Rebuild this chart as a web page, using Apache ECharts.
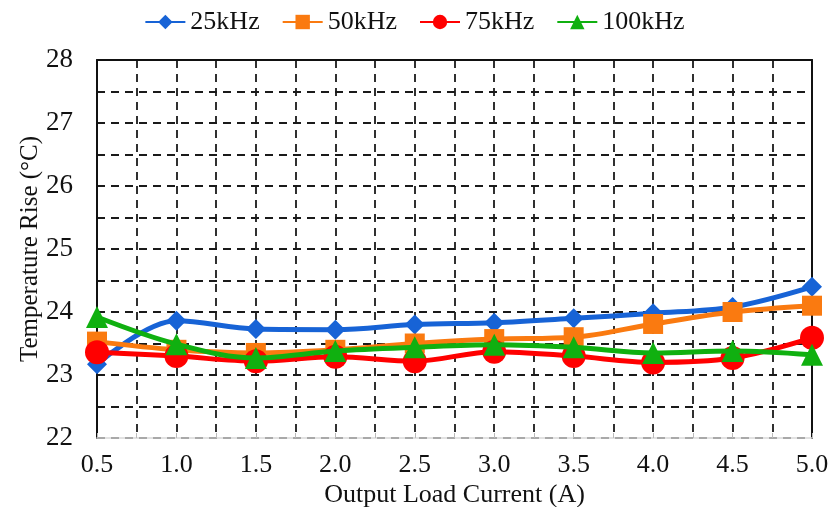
<!DOCTYPE html>
<html>
<head>
<meta charset="utf-8">
<script src="https://cdn.jsdelivr.net/npm/echarts@6/dist/echarts.min.js"></script>
<style>
html,body{margin:0;padding:0;background:#fff;}
#chart{width:829px;height:507px;}
</style>
</head>
<body>
<div id="chart"></div>
<script>
const currents = [0.5, 1.0, 1.5, 2.0, 2.5, 3.0, 3.5, 4.0, 4.5, 5.0];
const seriesNames = ['25kHz', '50kHz', '75kHz', '100kHz'];
const f25 = [23.17, 23.86, 23.73, 23.72, 23.80, 23.83, 23.90, 23.98, 24.08, 24.40];
const f50 = [23.53, 23.40, 23.35, 23.40, 23.50, 23.57, 23.60, 23.81, 24.00, 24.10];
const f75 = [23.36, 23.30, 23.22, 23.29, 23.22, 23.37, 23.30, 23.20, 23.27, 23.59];
const f100 = [23.92, 23.49, 23.27, 23.38, 23.44, 23.48, 23.44, 23.35, 23.38, 23.32];
const xTitle = 'Output Load Current (A)';
const yTitle = 'Temperature Rise (°C)';

const FONT = '"Liberation Serif", "Times New Roman", serif';
const colors = ['#1763d6', '#fa7a10', '#ff0000', '#10b010'];
const symbols = ['diamond', 'rect', 'circle', 'triangle'];
const symbolSizes = [20, 20, 24, 22];
const values = [f25, f50, f75, f100];

const dash = {color: '#1a1a1a', width: 1.8, type: [8, 6]};

const chart = echarts.init(document.getElementById('chart'), null, {renderer: 'canvas'});
chart.setOption({
  backgroundColor: '#fff',
  animation: false,
  textStyle: {fontFamily: FONT},
  legend: {
    top: 4,
    left: 'center',
    itemWidth: 40,
    itemHeight: 18,
    itemGap: 22,
    textStyle: {fontFamily: FONT, fontSize: 26, color: '#111'},
    data: seriesNames
  },
  grid: {left: 97, right: 17, top: 60, bottom: 69, outerBoundsMode: 'none', containLabel: false},
  xAxis: [{
    type: 'value',
    min: 0.5, max: 5, interval: 0.5,
    name: xTitle,
    nameLocation: 'middle',
    nameGap: 44,
    nameMoveOverlap: false,
    nameTextStyle: {fontFamily: FONT, fontSize: 26, color: '#111'},
    axisLine: {show: true, lineStyle: {color: '#d9d9d9', width: 1.5}},
    axisTick: {show: true, inside: true, length: 5, lineStyle: {color: '#bbb'}},
    minorTick: {show: true, splitNumber: 2, length: 5, lineStyle: {color: '#bbb'}},
    axisLabel: {fontFamily: FONT, fontSize: 26, color: '#111', margin: 14,
      formatter: v => v.toFixed(1)},
    splitLine: {show: true, lineStyle: dash},
    minorSplitLine: {show: true, lineStyle: dash}
  }, {
    type: 'value', position: 'top',
    min: 0.5, max: 5, interval: 0.5,
    axisLine: {show: true, onZero: false, lineStyle: {color: '#111', width: 2}},
    axisTick: {show: false}, axisLabel: {show: false}, splitLine: {show: false}
  }],
  yAxis: [{
    type: 'value',
    min: 22, max: 28, interval: 1,
    name: yTitle,
    nameLocation: 'middle',
    nameGap: 54,
    nameMoveOverlap: false,
    nameTextStyle: {fontFamily: FONT, fontSize: 25, color: '#111'},
    axisLine: {show: true, onZero: false, lineStyle: {color: '#111', width: 2}},
    axisTick: {show: false},
    axisLabel: {fontFamily: FONT, fontSize: 27, color: '#111', margin: 24},
    splitLine: {show: true, lineStyle: dash},
    minorTick: {show: false, splitNumber: 2},
    minorSplitLine: {show: true, lineStyle: dash}
  }, {
    type: 'value', position: 'right',
    min: 22, max: 28, interval: 1,
    axisLine: {show: true, onZero: false, lineStyle: {color: '#111', width: 2}},
    axisTick: {show: false}, axisLabel: {show: false}, splitLine: {show: false}
  }],
  series: seriesNames.map((name, i) => ({
    name: name,
    type: 'line',
    xAxisIndex: 0,
    yAxisIndex: 0,
    smooth: 0.35,
    symbol: symbols[i],
    symbolSize: symbolSizes[i],
    showAllSymbol: true,
    itemStyle: {color: colors[i]},
    lineStyle: {color: colors[i], width: 5},
    data: currents.map((x, j) => [x, values[i][j]]),
    z: 2 + i
  }))
});
</script>
</body>
</html>
